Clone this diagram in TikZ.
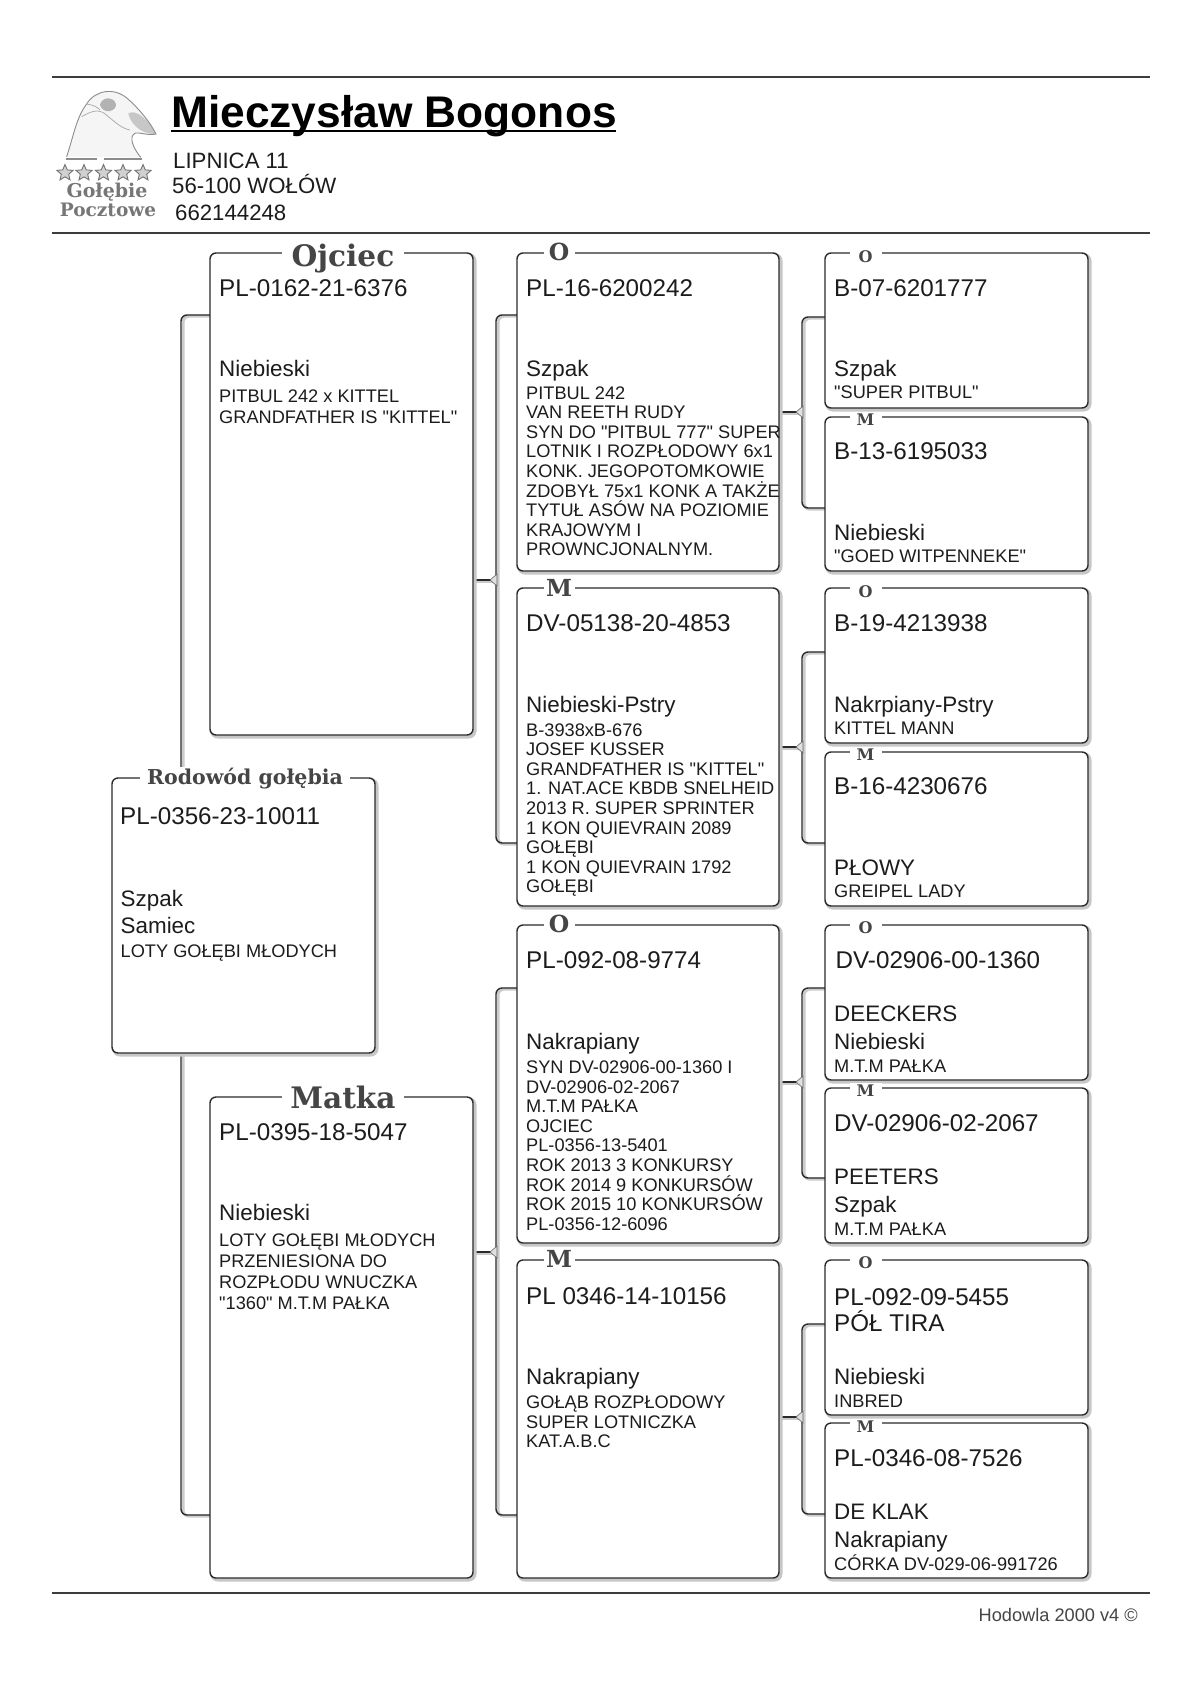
\documentclass[tikz,border=0pt]{standalone}
\usepackage{fontspec}
\usetikzlibrary{shapes.geometric,backgrounds}
\setmainfont{Liberation Sans}[Ligatures=TeXOff]
\newfontfamily\serfont{DejaVu Serif}
\definecolor{ink}{HTML}{1C1C1C}
\definecolor{edge}{HTML}{2A2A2A}
\definecolor{rulec}{HTML}{3C3C3C}
\definecolor{labc}{HTML}{454545}
\definecolor{logoc}{HTML}{767676}
\newcommand\Ln[1]{\hbox{#1}}
\newcommand\Bl[1]{\vtop{\baselineskip=19.6pt\lineskiplimit=-50pt #1}}
\newcommand\Blw[1]{\vtop{\baselineskip=21.3pt\lineskiplimit=-50pt #1}}
\tikzset{
  x=1pt,y=-1pt,
  pedbox/.style={draw=edge,line width=1.4pt,fill=white,rounded corners=6pt,inner sep=0pt,outer sep=0pt,anchor=north west,
    preaction={draw=black!22,line width=3.4pt,fill=none,transform canvas={xshift=1.8pt,yshift=-1.8pt}}},
  conn/.style={draw=edge,line width=1.4pt,rounded corners=6pt,
    preaction={draw=black!20,line width=3pt,transform canvas={xshift=2pt,yshift=-1.2pt}}},
  tiptri/.style={draw=black!60,fill=black!12,line width=.6pt},
  big/.style={anchor=base west,inner sep=0pt,text=ink,font=\fontsize{24.2}{24}\selectfont},
  mid/.style={anchor=base west,inner sep=0pt,text=ink,font=\fontsize{22.4}{24}\selectfont},
  small/.style={anchor=base west,inner sep=0pt,text=ink,font=\fontsize{18.2}{19.6}\selectfont},
  lab/.style={anchor=base,fill=white,inner xsep=0pt,inner ysep=1pt,text=labc},
  rulel/.style={draw=rulec},
  logostar/.style={star,star points=5,star point ratio=2.2,minimum size=17pt,inner sep=0pt,draw=black!55,fill=black!18,line width=.9pt},
}
\newcommand\pbox[5]{\node[pedbox,minimum width={(#4-#2)*1pt},minimum height={(#5-#3)*1pt}] (#1) at (#2,#3) {};}
\newcommand\jn[2]{\fill[tiptri] (#1-6,#2) -- (#1+1,#2-6) -- (#1+1,#2+6) -- cycle;}
\begin{document}
\begin{tikzpicture}
\useasboundingbox (0,0) rectangle (1200,1697);

% rules
\draw[rulel,line width=2pt] (52,77) -- (1150,77);
\draw[rulel,line width=1.6pt] (52,233) -- (1150,233);
\draw[rulel,line width=1.6pt] (52,1593) -- (1150,1593);

% logo
\begin{scope}[shift={(50,80)},x=0.3333pt,y=-0.3333pt]
\fill[black!4] (50,230) .. controls (70,170) and (80,110) .. (110,72) .. controls (135,30) and (195,20) .. (235,58) .. controls (265,85) and (300,125) .. (318,162) -- (255,160) -- (240,178) -- (272,232) -- cycle;
\fill[black!30] (150,75) .. controls (155,50) and (190,48) .. (198,72) .. controls (200,95) and (160,105) .. (150,75) -- cycle;
\fill[black!22] (235,100) .. controls (260,85) and (300,125) .. (318,162) .. controls (290,165) and (245,145) .. (235,100) -- cycle;
\draw[black!45,line width=.9pt] (50,230) .. controls (70,170) and (80,110) .. (110,72) .. controls (135,30) and (195,20) .. (235,58) .. controls (265,85) and (300,125) .. (318,162) .. controls (295,168) and (265,155) .. (255,160) .. controls (235,170) and (250,205) .. (272,232);
\draw[black!35,line width=.7pt] (95,110) .. controls (130,90) and (150,85) .. (175,110) .. controls (200,130) and (215,145) .. (240,150);
\draw[black!35,line width=.7pt] (110,72) .. controls (130,75) and (140,80) .. (150,90);
\draw[black!45,line width=2pt] (48,236) -- (142,236);
\draw[black!45,line width=2pt] (162,236) -- (276,236);
\end{scope}
\foreach \i/\sx in {1/65,2/84,3/103.5,4/123,5/143}{\node[logostar] (star\i) at (\sx,173) {};}
\node[anchor=base,inner sep=0pt,text=logoc,font=\serfont\bfseries\fontsize{19}{19}\selectfont] (logoa) at (107,197) {Gołębie};
\node[anchor=base,inner sep=0pt,text=logoc,font=\serfont\bfseries\fontsize{18.5}{19}\selectfont] (logob) at (108,216) {Pocztowe};

% header
\node[anchor=base west,inner sep=0pt,text=black,font=\bfseries\fontsize{44.3}{44}\selectfont] (title) at (171,127) {Mieczysław Bogonos};
\draw[black,line width=1.5pt] (title.base west) ++(0,4) -- ++(445,0);
\node[anchor=base west,inner sep=0pt,text=ink,font=\fontsize{22.2}{24}\selectfont] (h1) at (173,168.5) {LIPNICA 11};
\node[anchor=base west,inner sep=0pt,text=ink,font=\fontsize{22.2}{24}\selectfont] (h2) at (172,193.5) {56-100 WOŁÓW};
\node[anchor=base west,inner sep=0pt,text=ink,font=\fontsize{22.2}{24}\selectfont] (h3) at (175,220.5) {662144248};
\node[anchor=base west,inner sep=0pt,text=labc,font=\fontsize{18.2}{18}\selectfont] (foot) at (978.5,1621) {Hodowla 2000 v4 ©};

% boxes
\pbox{sub}{112}{778}{375}{1053}
\pbox{fa}{210}{253}{473}{735}
\pbox{ma}{210}{1097}{473}{1578}
\pbox{o1}{517}{253}{779}{571}
\pbox{m1}{517}{588}{779}{906}
\pbox{o2}{517}{925}{779}{1243}
\pbox{m2}{517}{1260}{779}{1578}
\pbox{a1}{825}{253}{1088}{408}
\pbox{a2}{825}{417}{1088}{571}
\pbox{a3}{825}{588}{1088}{743}
\pbox{a4}{825}{752}{1088}{906}
\pbox{a5}{825}{925}{1088}{1080}
\pbox{a6}{825}{1088}{1088}{1243}
\pbox{a7}{825}{1260}{1088}{1415}
\pbox{a8}{825}{1423}{1088}{1578}

% connectors
\begin{pgfonlayer}{background}
\fill[white] (0,0) rectangle (1200,1697);
\draw[conn] (181,0 |- sub.north) -- (181,315) -- (fa.west |- 0,315);
\draw[conn] (181,0 |- sub.south) -- (181,1515) -- (ma.west |- 0,1515);
\draw[conn] (o1.west |- 0,315) -- (496,315) -- (496,843) -- (m1.west |- 0,843);
\draw[conn] (o2.west |- 0,988) -- (496,988) -- (496,1515) -- (m2.west |- 0,1515);
\draw[conn] (a1.west |- 0,317) -- (802,317) -- (802,508) -- (a2.west |- 0,508);
\draw[conn] (a3.west |- 0,652) -- (802,652) -- (802,843) -- (a4.west |- 0,843);
\draw[conn] (a5.west |- 0,988) -- (802,988) -- (802,1178) -- (a6.west |- 0,1178);
\draw[conn] (a7.west |- 0,1324) -- (802,1324) -- (802,1514) -- (a8.west |- 0,1514);
\draw[conn] (fa.east |- 0,580) -- (492,580);
\draw[conn] (ma.east |- 0,1252) -- (492,1252);
\draw[conn] (o1.east |- 0,412) -- (798,412);
\draw[conn] (m1.east |- 0,747) -- (798,747);
\draw[conn] (o2.east |- 0,1082) -- (798,1082);
\draw[conn] (m2.east |- 0,1417) -- (798,1417);
\jn{496}{580}\jn{496}{1252}\jn{802}{412}\jn{802}{747}\jn{802}{1082}\jn{802}{1417}
\end{pgfonlayer}

% box titles
\node[lab,minimum width=122pt,font=\serfont\bfseries\fontsize{29.6}{30}\selectfont] (lfa) at (343,266) {Ojciec};
\node[lab,minimum width=122pt,font=\serfont\bfseries\fontsize{29.6}{30}\selectfont] (lma) at (343,1108) {Matka};
\node[lab,minimum width=210pt,font=\serfont\bfseries\fontsize{20.5}{21}\selectfont] (lsub) at (245,784) {Rodowód gołębia};
\foreach \nm/\ty/\tx in {lo1/260/O,lm1/596/M,lo2/932/O,lm2/1267/M}{
  \node[lab,minimum width=31pt,font=\serfont\bfseries\fontsize{23.5}{24}\selectfont] (\nm) at (559,\ty) {\tx};}
\foreach \nm/\ty/\tx in {la1/262/O,la2/425/M,la3/597/O,la4/760/M,la5/933/O,la6/1096/M,la7/1268/O,la8/1432/M}{
  \node[lab,minimum width=32pt,font=\serfont\bfseries\fontsize{16}{16}\selectfont] (\nm) at (865.5,\ty) {\tx};}

% subject
\node[big] (sa) at (120,824.5) {PL-0356-23-10011};
\node[mid] (sb) at (120.5,906) {Szpak};
\node[mid] (sc) at (120.5,933) {Samiec};
\node[small] (sd) at (120.5,957) {LOTY GOŁĘBI MŁODYCH};

% father
\node[big] (fa1) at (219,296) {PL-0162-21-6376};
\node[mid] (fa2) at (219,376) {Niebieski};
\node[small] (fa3) at (219,402.5) {\Blw{\Ln{PITBUL 242 x KITTEL}\Ln{GRANDFATHER IS "KITTEL"}}};

% mother
\node[big] (ma1) at (219,1140) {PL-0395-18-5047};
\node[mid] (ma2) at (219,1220) {Niebieski};
\node[small] (ma3) at (219,1246) {\Blw{\Ln{LOTY GOŁĘBI MŁODYCH}\Ln{PRZENIESIONA DO}\Ln{ROZPŁODU WNUCZKA}\Ln{"1360" M.T.M PAŁKA}}};

% second column
\node[big] (o11) at (526,296) {PL-16-6200242};
\node[mid] (o12) at (526,376) {Szpak};
\node[small] (o13) at (526,399) {\Bl{\Ln{PITBUL 242}\Ln{VAN REETH RUDY}\Ln{SYN DO "PITBUL 777" SUPER}\Ln{LOTNIK I ROZPŁODOWY 6x1}\Ln{KONK. JEGOPOTOMKOWIE}\Ln{ZDOBYŁ 75x1 KONK A TAKŻE}\Ln{TYTUŁ ASÓW NA POZIOMIE}\Ln{KRAJOWYM I}\Ln{PROWNCJONALNYM.}}};

\node[big] (m11) at (526,631) {DV-05138-20-4853};
\node[mid] (m12) at (526,712) {Niebieski-Pstry};
\node[small] (m13) at (526,736) {\Bl{\Ln{B-3938xB-676}\Ln{JOSEF KUSSER}\Ln{GRANDFATHER IS "KITTEL"}\Ln{1. NAT.ACE KBDB SNELHEID}\Ln{2013 R. SUPER SPRINTER}\Ln{1 KON QUIEVRAIN 2089}\Ln{GOŁĘBI}\Ln{1 KON QUIEVRAIN 1792}\Ln{GOŁĘBI}}};

\node[big] (o21) at (526,968) {PL-092-08-9774};
\node[mid] (o22) at (526,1049) {Nakrapiany};
\node[small] (o23) at (526,1073.5) {\Bl{\Ln{SYN DV-02906-00-1360 I}\Ln{DV-02906-02-2067}\Ln{M.T.M PAŁKA}\Ln{OJCIEC}\Ln{PL-0356-13-5401}\Ln{ROK 2013 3 KONKURSY}\Ln{ROK 2014 9 KONKURSÓW}\Ln{ROK 2015 10 KONKURSÓW}\Ln{PL-0356-12-6096}}};

\node[big] (m21) at (526,1304) {PL 0346-14-10156};
\node[mid] (m22) at (526,1384) {Nakrapiany};
\node[small] (m23) at (526,1408.5) {\Bl{\Ln{GOŁĄB ROZPŁODOWY}\Ln{SUPER LOTNICZKA}\Ln{KAT.A.B.C}}};

% third column
\node[big] (a11) at (834,296) {B-07-6201777};
\node[mid] (a12) at (834,376) {Szpak};
\node[small] (a13) at (834,398.5) {"SUPER PITBUL"};

\node[big] (a21) at (834,459) {B-13-6195033};
\node[mid] (a22) at (834,540) {Niebieski};
\node[small] (a23) at (834,562) {"GOED WITPENNEKE"};

\node[big] (a31) at (834,631) {B-19-4213938};
\node[mid] (a32) at (834,712) {Nakrpiany-Pstry};
\node[small] (a33) at (834,734) {KITTEL MANN};

\node[big] (a41) at (834,794) {B-16-4230676};
\node[mid] (a42) at (834,875) {PŁOWY};
\node[small] (a43) at (834,897) {GREIPEL LADY};

\node[big] (a51) at (835.5,968) {DV-02906-00-1360};
\node[mid] (a52) at (834,1021) {DEECKERS};
\node[mid] (a53) at (834,1049) {Niebieski};
\node[small] (a54) at (834,1072) {M.T.M PAŁKA};

\node[big] (a61) at (834,1131) {DV-02906-02-2067};
\node[mid] (a62) at (834,1184.5) {PEETERS};
\node[mid] (a63) at (834,1212) {Szpak};
\node[small] (a64) at (834,1235) {M.T.M PAŁKA};

\node[big] (a71) at (834,1305) {PL-092-09-5455};
\node[big] (a72) at (834,1331) {PÓŁ TIRA};
\node[mid] (a73) at (834,1384) {Niebieski};
\node[small] (a74) at (834,1407) {INBRED};

\node[big] (a81) at (834,1466) {PL-0346-08-7526};
\node[mid] (a82) at (834,1519) {DE KLAK};
\node[mid] (a83) at (834,1547) {Nakrapiany};
\node[small] (a84) at (834,1570) {CÓRKA DV-029-06-991726};
\end{tikzpicture}
\end{document}
